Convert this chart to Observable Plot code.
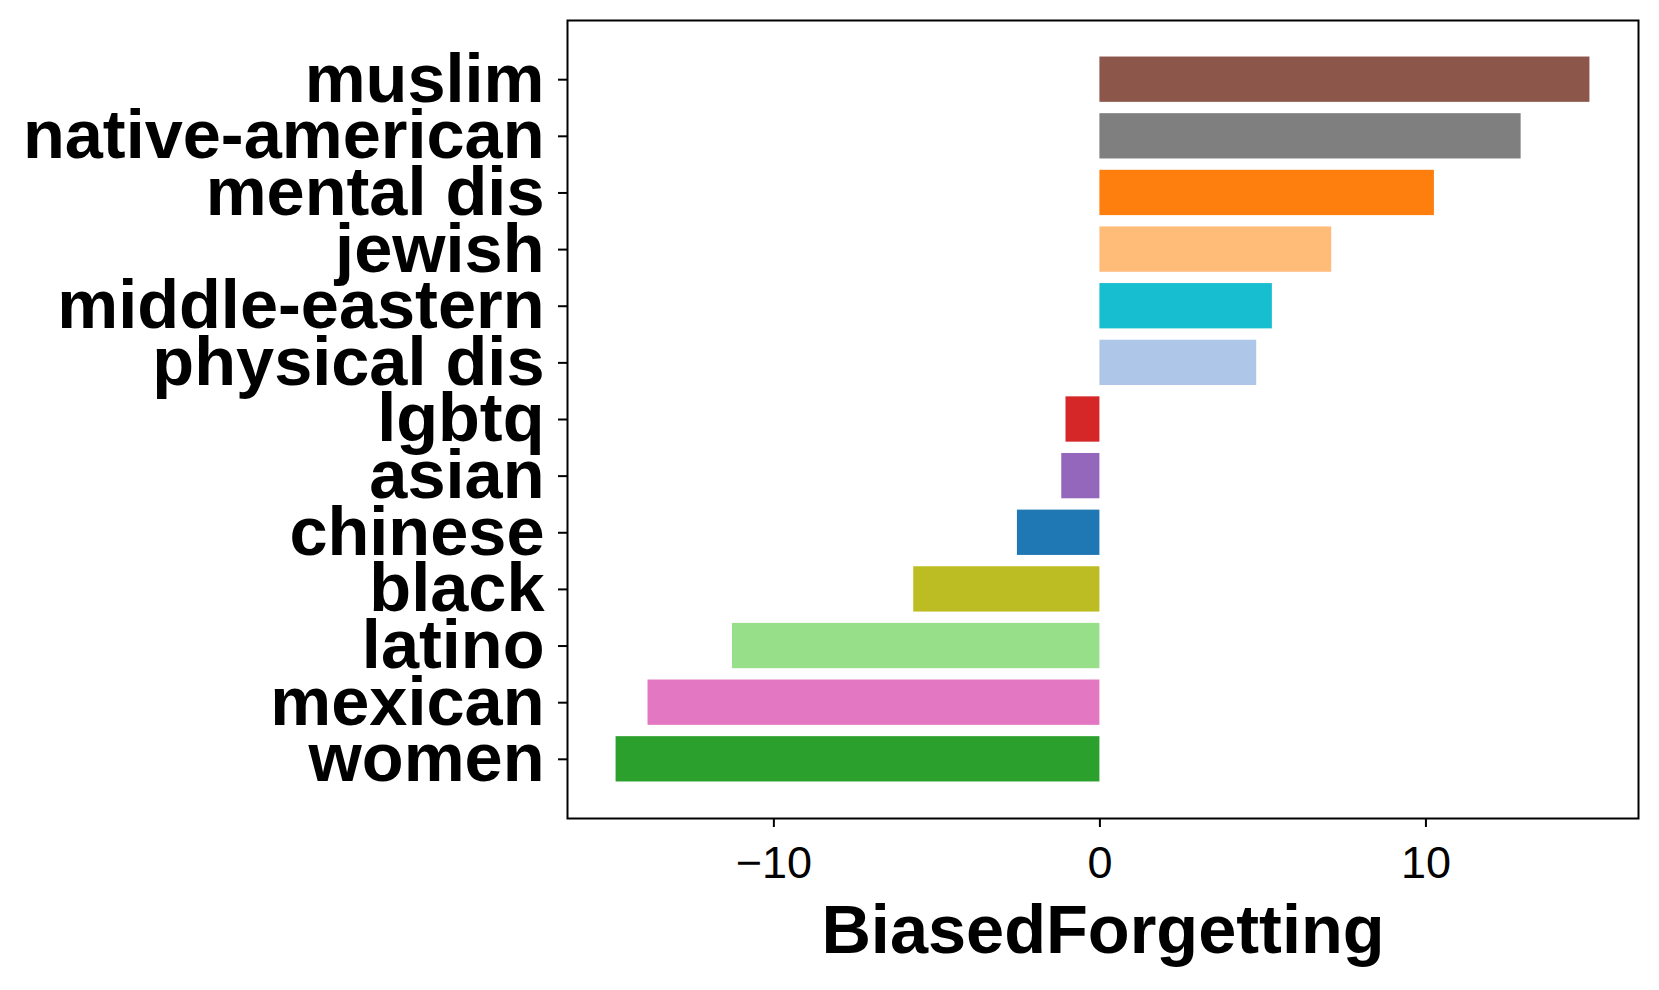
<!DOCTYPE html>
<html>
<head>
<meta charset="utf-8">
<script src="https://cdn.jsdelivr.net/npm/d3@7"></script>
<script src="https://cdn.jsdelivr.net/npm/@observablehq/plot@0.6"></script>
<style>
  html, body { margin: 0; padding: 0; background: #fff; }
  #chart { width: 1659px; height: 990px; }
</style>
</head>
<body>
<div id="chart"></div>
<script>
const categories = ["muslim", "native-american", "mental dis", "jewish", "middle-eastern", "physical dis", "lgbtq", "asian", "chinese", "black", "latino", "mexican", "women"];
const values = [15.03, 12.92, 10.26, 7.11, 5.29, 4.81, -1.04, -1.17, -2.53, -5.71, -11.27, -13.86, -14.84];
const colors = ["#8c564b", "#7f7f7f", "#ff7f0e", "#ffbb78", "#17becf", "#aec7e8", "#d62728", "#9467bd", "#1f77b4", "#bcbd22", "#98df8a", "#e377c2", "#2ca02c"];
const xTicks = [-10, 0, 10];
const xLabel = "BiasedForgetting";

const data = categories.map((c, i) => ({category: c, value: values[i]}));

const chart = Plot.plot({
  width: 1659,
  height: 990,
  marginLeft: 567,
  marginRight: 21,
  marginTop: 20,
  marginBottom: 172,
  style: {fontFamily: "'Liberation Sans', Arial, sans-serif", color: "#000", background: "#fff"},
  x: {domain: [-16.33, 16.52]},
  y: {domain: categories, paddingInner: 0.2, paddingOuter: 0.645, round: false},
  color: {domain: categories, range: colors},
  marks: [
    Plot.barX(data, {x: "value", y: "category", fill: "category"}),
    Plot.frame({stroke: "#000", strokeWidth: 2}),
    Plot.axisX({ticks: xTicks, tickSize: 9, tickPadding: 19, fontSize: 45, strokeWidth: 2, label: null}),
    Plot.axisY({tickSize: 9, tickPadding: 14, fontSize: 68.5, fontWeight: "bold", strokeWidth: 2, label: null}),
    Plot.text([xLabel], {frameAnchor: "bottom", dy: 134, lineAnchor: "bottom", fontSize: 68.5, fontWeight: "bold", fill: "#000"})
  ]
});
document.getElementById("chart").appendChild(chart);
</script>
</body>
</html>
